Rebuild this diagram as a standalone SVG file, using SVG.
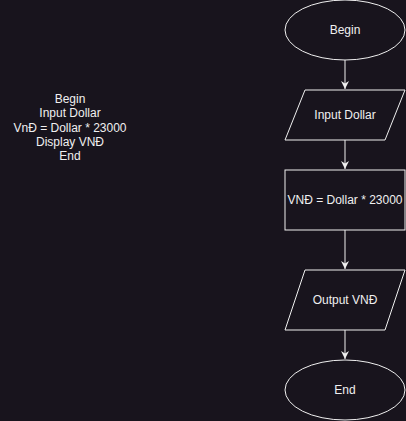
<svg xmlns="http://www.w3.org/2000/svg" width="406" height="421" viewBox="0 0 406 421">
<style>
.s{fill:#18141d;stroke:#f0f0f0;stroke-width:1}
.t{font-family:"Liberation Sans",Arial,sans-serif;font-size:12px;fill:#f0f0f0;text-anchor:middle;dominant-baseline:central}
.c{stroke:#f0f0f0;stroke-width:1;fill:none}
</style>
<defs>
<marker id="a" viewBox="0 0 10 10" refX="10" refY="5" markerWidth="8" markerHeight="8" markerUnits="userSpaceOnUse" orient="auto">
<path d="M0,0 L10,5 L0,10 L3,5 Z" fill="#f0f0f0"/>
</marker>
</defs>
<rect width="406" height="421" fill="#18141d"/>
<g id="connectors">
<path class="c" d="M345,60 V89" marker-end="url(#a)"/>
<path class="c" d="M345,140 V169" marker-end="url(#a)"/>
<path class="c" d="M345,230 V269" marker-end="url(#a)"/>
<path class="c" d="M345,330 V359" marker-end="url(#a)"/>
</g>
<g id="note">
<text class="t" x="70" y="99">Begin</text>
<text class="t" x="70" y="113">Input Dollar</text>
<text class="t" x="70" y="128">VnĐ = Dollar * 23000</text>
<text class="t" x="70" y="142">Display VNĐ</text>
<text class="t" x="70" y="156">End</text>
</g>
<g id="begin">
<ellipse class="s" cx="345" cy="30" rx="60" ry="30"/>
<text class="t" x="345" y="30">Begin</text>
</g>
<g id="input">
<polygon class="s" points="305,90 405,90 385,140 285,140"/>
<text class="t" x="345" y="115">Input Dollar</text>
</g>
<g id="process">
<rect class="s" x="285" y="170" width="120" height="60"/>
<text class="t" x="345" y="200">VNĐ = Dollar * 23000</text>
</g>
<g id="output">
<polygon class="s" points="305,270 405,270 385,330 285,330"/>
<text class="t" x="345" y="300">Output VNĐ</text>
</g>
<g id="end">
<ellipse class="s" cx="345" cy="390" rx="60" ry="30"/>
<text class="t" x="345" y="390">End</text>
</g>
</svg>
